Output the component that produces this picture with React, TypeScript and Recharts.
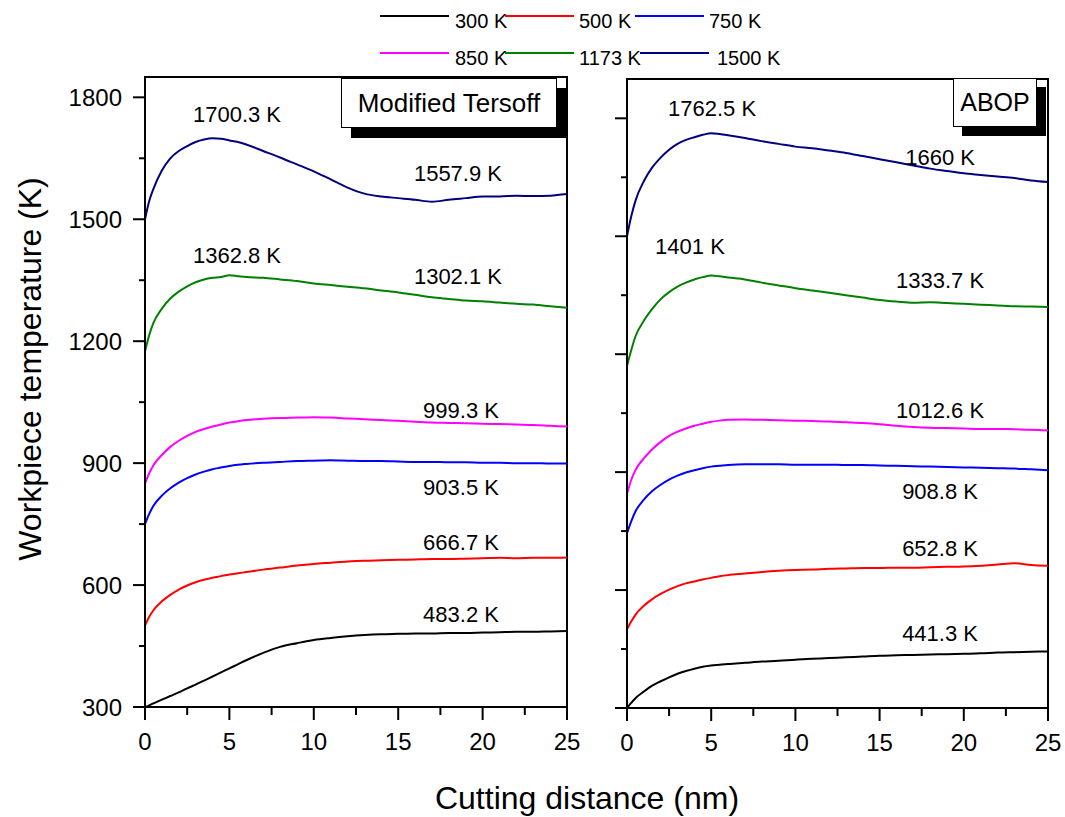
import React from 'react';
import { LineChart, Line, XAxis, YAxis, ReferenceArea, ReferenceDot } from 'recharts';

const FONT = "'Liberation Sans', Arial, Helvetica, sans-serif";

// Cutting distance samples (nm)
const distances = [0, 0.25, 0.5, 1, 1.5, 2, 2.5, 3, 3.5, 4, 4.5, 5, 5.5, 6, 7, 8, 9, 10, 11, 12, 13, 14, 15, 16, 17, 18, 19, 20, 21, 22, 23, 24, 25];

const seriesKeys = ['t300', 't500', 't750', 't850', 't1173', 't1500'];
const seriesNames = ['300 K', '500 K', '750 K', '850 K', '1173 K', '1500 K'];
const seriesColors = ['#000000', '#ff0000', '#0000ff', '#ff00ff', '#008000', '#000080'];

// Modified Tersoff panel
const tersoff300 = [300, 304, 309, 318, 327, 336, 346, 355, 365, 375, 385, 395, 405, 415, 433, 448, 457, 465, 470, 474, 477, 479, 480, 481, 481, 482, 482, 483, 484, 485, 485, 486, 487];
const tersoff500 = [500, 522, 538, 560, 576, 589, 599, 607, 613, 618, 622, 626, 629, 632, 638, 643, 648, 652, 655, 658, 660, 661, 662, 663, 664, 664, 665, 666, 667, 666, 667, 667, 668];
const tersoff750 = [750, 775, 795, 820, 838, 852, 863, 872, 879, 885, 889, 893, 896, 898, 901, 903, 905, 906, 907, 906, 905, 905, 904, 903, 903, 902, 902, 901, 901, 900, 900, 899, 899];
const tersoff850 = [850, 875, 895, 920, 940, 955, 967, 977, 984, 990, 995, 1000, 1003, 1006, 1009, 1011, 1012, 1013, 1012, 1010, 1008, 1006, 1004, 1002, 1000, 999, 998, 997, 996, 995, 994, 992, 990];
const tersoff1173 = [1175, 1215, 1245, 1280, 1305, 1322, 1335, 1345, 1352, 1356, 1358, 1362, 1360, 1358, 1356, 1352, 1348, 1342, 1338, 1334, 1330, 1325, 1320, 1314, 1308, 1304, 1300, 1298, 1295, 1292, 1290, 1286, 1282];
const tersoff1500 = [1500, 1545, 1575, 1620, 1650, 1668, 1680, 1690, 1696, 1699, 1698, 1694, 1690, 1684, 1668, 1652, 1635, 1618, 1598, 1578, 1563, 1556, 1552, 1548, 1543, 1548, 1552, 1556, 1556, 1558, 1557, 1558, 1562];

// ABOP panel
const abop300 = [300, 313, 325, 342, 357, 368, 378, 387, 394, 400, 405, 408, 410, 412, 415, 418, 420, 423, 425, 427, 429, 431, 433, 434, 435, 436, 437, 438, 439, 441, 442, 443, 444];
const abop500 = [500, 520, 537, 560, 577, 590, 601, 610, 617, 622, 627, 631, 635, 638, 642, 646, 649, 651, 652, 654, 655, 656, 656, 657, 657, 658, 659, 660, 662, 665, 668, 664, 662];
const abop750 = [745, 775, 800, 830, 852, 868, 881, 891, 899, 905, 910, 914, 916, 918, 920, 920, 920, 919, 919, 919, 918, 918, 917, 916, 915, 914, 913, 912, 911, 910, 909, 907, 905];
const abop850 = [845, 880, 905, 935, 958, 977, 992, 1003, 1011, 1018, 1023, 1028, 1031, 1033, 1034, 1033, 1032, 1031, 1030, 1029, 1027, 1025, 1022, 1018, 1015, 1013, 1012, 1011, 1010, 1010, 1009, 1008, 1006];
const abop1173 = [1170, 1210, 1245, 1285, 1315, 1340, 1358, 1372, 1382, 1390, 1396, 1400, 1398, 1395, 1390, 1382, 1375, 1368, 1362, 1356, 1350, 1344, 1338, 1334, 1331, 1332, 1330, 1328, 1326, 1324, 1322, 1321, 1320];
const abop1500 = [1500, 1550, 1590, 1640, 1675, 1700, 1720, 1735, 1745, 1752, 1758, 1762, 1760, 1757, 1750, 1742, 1735, 1728, 1724, 1718, 1712, 1704, 1696, 1688, 1680, 1672, 1666, 1660, 1656, 1652, 1648, 1642, 1638];

// Ticks
const xTicks = [0, 2.5, 5, 7.5, 10, 12.5, 15, 17.5, 20, 22.5, 25];
const xMajor = [0, 5, 10, 15, 20, 25];
const yTicks = [300, 450, 600, 750, 900, 1050, 1200, 1350, 1500, 1650, 1800];
const yMajor = [300, 600, 900, 1200, 1500, 1800];

// Annotations (text, at data coordinates)
const tersoffNotes = ['1700.3 K', '1557.9 K', '1362.8 K', '1302.1 K', '999.3 K', '903.5 K', '666.7 K', '483.2 K'];
const tersoffNoteX = [5.45, 18.54, 5.45, 18.54, 18.72, 18.72, 18.72, 18.72];
const tersoffNoteY = [1758, 1613, 1411, 1359, 1031, 842, 706, 529];
const abopNotes = ['1762.5 K', '1660 K', '1401 K', '1333.7 K', '1012.6 K', '908.8 K', '652.8 K', '441.3 K'];
const abopNoteX = [5.05, 18.59, 3.74, 18.59, 18.59, 18.59, 18.59, 18.59];
const abopNoteY = [1825, 1701, 1475, 1388, 1058, 852, 707, 491];

const buildRows = (cols: number[][]) =>
  distances.map((x, i) => {
    const row: Record<string, number> = { x };
    seriesKeys.forEach((k, j) => {
      row[k] = cols[j][i];
    });
    return row;
  });

const tersoffRows = buildRows([tersoff300, tersoff500, tersoff750, tersoff850, tersoff1173, tersoff1500]);
const abopRows = buildRows([abop300, abop500, abop750, abop850, abop1173, abop1500]);

const makeYTick = (showLabel: boolean) => (props: any) => {
  const { x, y, payload } = props;
  const major = yMajor.includes(payload.value);
  const len = major ? 12 : 6;
  return (
    <g>
      <line x1={x} x2={x - len} y1={y} y2={y} stroke="#000" strokeWidth={2} />
      {major && showLabel && (
        <text x={x - 23} y={y} textAnchor="end" dominantBaseline="central" fontSize={24} fontFamily={FONT} fill="#000">
          {payload.value}
        </text>
      )}
    </g>
  );
};

const XTick = (props: any) => {
  const { x, y, payload } = props;
  const major = xMajor.includes(payload.value);
  const len = major ? 13 : 8;
  return (
    <g>
      <line x1={x} x2={x} y1={y} y2={y + len} stroke="#000" strokeWidth={2} />
      {major && (
        <text x={x} y={y + 34} textAnchor="middle" dominantBaseline="central" fontSize={24} fontFamily={FONT} fill="#000">
          {payload.value}
        </text>
      )}
    </g>
  );
};

type PanelProps = {
  rows: Record<string, number>[];
  left: number;
  width: number;
  height: number;
  top: number;
  right: number;
  yWidth: number;
  yMax: number;
  showYLabels: boolean;
  notes: string[];
  noteX: number[];
  noteY: number[];
};

const Panel = (p: PanelProps) => (
  <div style={{ position: 'absolute', left: p.left, top: 0 }}>
    <LineChart width={p.width} height={p.height} data={p.rows} margin={{ top: p.top, right: p.right, bottom: 0, left: 0 }}>
      <ReferenceArea x1={0} x2={25} y1={300} y2={p.yMax} fill="none" fillOpacity={0} stroke="#000" strokeWidth={2} ifOverflow="visible" />
      <XAxis
        type="number"
        dataKey="x"
        domain={[0, 25]}
        ticks={xTicks}
        interval={0}
        allowDataOverflow
        height={53}
        tickSize={0}
        tickMargin={0}
        tickLine={false}
        axisLine={{ stroke: '#000', strokeWidth: 2 }}
        tick={XTick}
      />
      <YAxis
        type="number"
        domain={[300, p.yMax]}
        ticks={yTicks}
        interval={0}
        allowDataOverflow
        width={p.yWidth}
        tickSize={0}
        tickMargin={0}
        tickLine={false}
        axisLine={{ stroke: '#000', strokeWidth: 2 }}
        tick={makeYTick(p.showYLabels)}
      />
      {seriesKeys.map((k, j) => (
        <Line
          key={k}
          dataKey={k}
          name={seriesNames[j]}
          type="monotone"
          stroke={seriesColors[j]}
          strokeWidth={2}
          dot={false}
          isAnimationActive={false}
        />
      ))}
      {p.notes.map((t, i) => (
        <ReferenceDot
          key={t}
          x={p.noteX[i]}
          y={p.noteY[i]}
          r={1}
          fill="none"
          stroke="none"
          ifOverflow="visible"
          label={{ value: t, position: 'center', fontSize: 22, fontFamily: FONT, fill: '#000' }}
        />
      ))}
    </LineChart>
  </div>
);

const legendRows = [
  [0, 1, 2],
  [3, 4, 5],
];
const legendLineX = [[380, 505, 635], [380, 505, 640]];
const legendTextX = [[455, 579, 709], [455, 579, 717]];
const legendRowY = [16, 53];

const boxStyle: React.CSSProperties = {
  position: 'absolute',
  boxSizing: 'border-box',
  background: '#fff',
  border: '1px solid #000',
  boxShadow: '10px 10px 0 #000',
  display: 'flex',
  alignItems: 'center',
  justifyContent: 'center',
  fontFamily: FONT,
  fontSize: 26,
  color: '#000',
};

export default function App() {
  return (
    <div style={{ position: 'absolute', left: 0, top: 0, width: 1065, height: 817, background: '#fff', overflow: 'hidden' }}>
      <Panel
        rows={tersoffRows}
        left={0}
        width={580}
        height={760}
        top={77}
        right={13}
        yWidth={145}
        yMax={1850}
        showYLabels={true}
        notes={tersoffNotes}
        noteX={tersoffNoteX}
        noteY={tersoffNoteY}
      />
      <Panel
        rows={abopRows}
        left={580}
        width={485}
        height={761}
        top={79}
        right={17}
        yWidth={47}
        yMax={1900}
        showYLabels={false}
        notes={abopNotes}
        noteX={abopNoteX}
        noteY={abopNoteY}
      />
      <svg width={1065} height={817} style={{ position: 'absolute', left: 0, top: 0, pointerEvents: 'none' }}>
        {legendRows.map((row, r) =>
          row.map((s, c) => (
            <g key={s}>
              <line x1={legendLineX[r][c]} x2={legendLineX[r][c] + 69} y1={legendRowY[r]} y2={legendRowY[r]} stroke={seriesColors[s]} strokeWidth={2} />
              <text x={legendTextX[r][c]} y={legendRowY[r] + 5} dominantBaseline="central" fontSize={20} fontFamily={FONT} fill="#000">
                {seriesNames[s]}
              </text>
            </g>
          ))
        )}
        <text x={587} y={798} textAnchor="middle" dominantBaseline="central" fontSize={32} fontFamily={FONT} fill="#000">
          Cutting distance (nm)
        </text>
        <text
          x={30}
          y={369}
          textAnchor="middle"
          dominantBaseline="central"
          fontSize={32}
          fontFamily={FONT}
          fill="#000"
          transform="rotate(-90 30 369)"
        >
          Workpiece temperature (K)
        </text>
      </svg>
      <div style={{ ...boxStyle, left: 341, top: 78, width: 216, height: 50 }}>Modified Tersoff</div>
      <div style={{ ...boxStyle, left: 953, top: 78, width: 84, height: 49, boxShadow: '9px 9px 0 #000', fontSize: 25 }}>ABOP</div>
    </div>
  );
}
